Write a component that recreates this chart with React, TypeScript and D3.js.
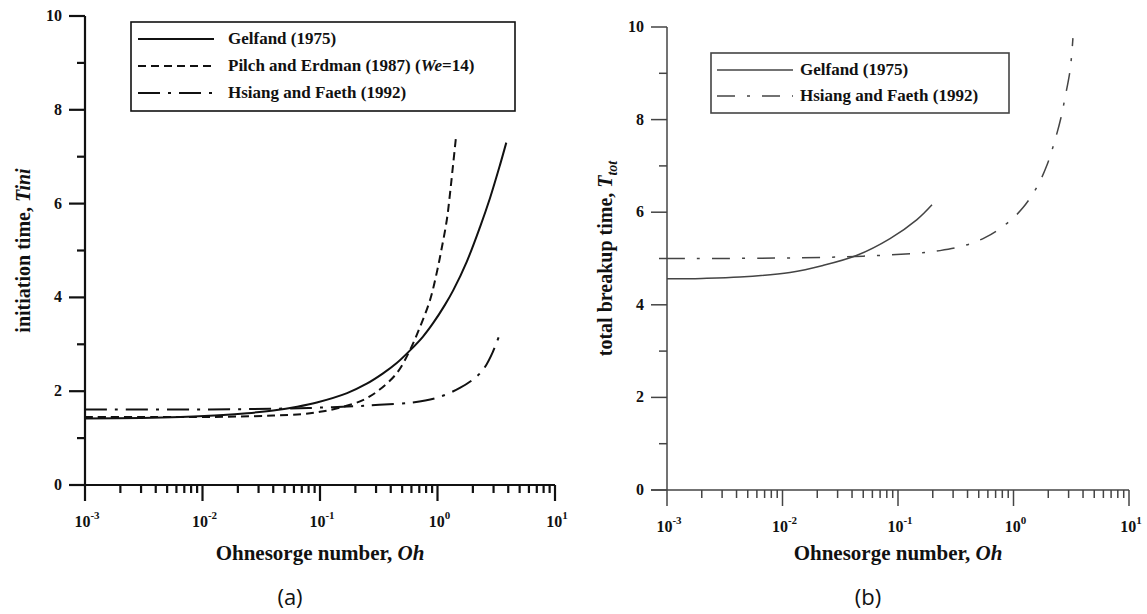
import React from 'react';
import * as d3 from 'd3';

// ---------- Data: panel (a) initiation time ----------
const ohGelfandA = [0.001, 0.003, 0.0065, 0.015, 0.024, 0.04, 0.064, 0.094, 0.17, 0.25, 0.344, 0.45, 0.584, 0.75, 0.917, 1.15, 1.36, 1.78, 2.3, 2.8, 3.4, 3.85];
const tGelfandA = [1.42, 1.43, 1.45, 1.49, 1.53, 1.59, 1.67, 1.76, 1.96, 2.16, 2.38, 2.6, 2.87, 3.16, 3.45, 3.83, 4.15, 4.77, 5.5, 6.12, 6.82, 7.3];

const ohPilchA = [0.001, 0.005, 0.01, 0.02, 0.04, 0.07, 0.1, 0.148, 0.232, 0.32, 0.452, 0.584, 0.71, 0.863, 0.99, 1.09, 1.2, 1.28, 1.36, 1.44];
const tPilchA = [1.45, 1.45, 1.45, 1.46, 1.48, 1.51, 1.56, 1.65, 1.81, 2.03, 2.39, 2.88, 3.37, 3.94, 4.55, 5.07, 5.65, 6.23, 6.85, 7.44];

const ohHsiangA = [0.001, 0.01, 0.05, 0.1, 0.2, 0.32, 0.615, 0.99, 1.55, 2.17, 2.54, 2.96, 3.39];
const tHsiangA = [1.61, 1.61, 1.63, 1.65, 1.68, 1.71, 1.76, 1.86, 2.07, 2.32, 2.52, 2.84, 3.22];

// ---------- Data: panel (b) total breakup time ----------
const ohGelfandB = [0.001, 0.002, 0.00428, 0.0116, 0.0224, 0.0442, 0.0853, 0.146, 0.197];
const tGelfandB = [4.56, 4.57, 4.6, 4.7, 4.85, 5.07, 5.43, 5.84, 6.16];

const ohHsiangB = [0.001, 0.01, 0.05, 0.135, 0.231, 0.366, 0.566, 0.879, 1.21, 1.6, 1.95, 2.24, 2.57, 2.79, 3.09, 3.27];
const tHsiangB = [5.0, 5.01, 5.05, 5.11, 5.17, 5.27, 5.45, 5.76, 6.1, 6.55, 7.02, 7.48, 8.03, 8.47, 9.07, 9.76];

// ---------- Axis ticks ----------
const xMajorExps = [-3, -2, -1, 0, 1];
const xMinorMult = [2, 3, 4, 5, 6, 7, 8, 9];
const yMajor = [0, 2, 4, 6, 8, 10];
const yMinor = [1, 3, 5, 7, 9];

const legendA = ['Gelfand (1975)', 'Pilch and Erdman (1987)', 'Hsiang and Faeth (1992)'];
const legendB = ['Gelfand (1975)', 'Hsiang and Faeth (1992)'];

const SERIF = '"Liberation Serif", "Times New Roman", serif';

type Series = { x: number[]; y: number[]; dash: string };

function Panel(props: {
  xr: [number, number];
  yr: [number, number];
  stroke: string;
  axisW: number;
  lineW: number;
  series: Series[];
  yTitle: React.ReactNode;
  yTitleX: number;
  caption: string;
  legendBox: [number, number, number, number];
  legendRows: { y: number; label: React.ReactNode; dash: string }[];
  legendLine: [number, number];
  legendTextX: number;
}) {
  const { xr, yr, stroke, axisW, lineW, series } = props;
  const x = d3.scaleLog().domain([1e-3, 10]).range(xr);
  const y = d3.scaleLinear().domain([0, 10]).range(yr);
  const line = d3
    .line<[number, number]>()
    .x((d) => x(d[0]))
    .y((d) => y(d[1]))
    .curve(d3.curveCatmullRom.alpha(0.5));

  const x0 = xr[0];
  const y0 = y(0);
  const minorX: number[] = [];
  for (const e of [-3, -2, -1, 0]) for (const m of xMinorMult) minorX.push(m * Math.pow(10, e));

  const [bx0, by0, bx1, by1] = props.legendBox;
  const cx = (xr[0] + xr[1]) / 2;
  const cy = (yr[0] + yr[1]) / 2;

  return (
    <g fontFamily={SERIF} fill="#111">
      {series.map((s, i) => (
        <path
          key={i}
          d={line(s.x.map((v, j) => [v, s.y[j]] as [number, number])) || ''}
          fill="none"
          stroke={stroke}
          strokeWidth={lineW}
          strokeDasharray={s.dash}
        />
      ))}
      <line x1={x0} x2={x0} y1={y(0)} y2={y(10)} stroke={stroke} strokeWidth={axisW} />
      <line x1={x0 - 16} x2={xr[1]} y1={y0} y2={y0} stroke={stroke} strokeWidth={axisW} />
      {yMajor.map((v) => (
        <g key={'ym' + v}>
          <line x1={x0 - 16} x2={x0} y1={y(v)} y2={y(v)} stroke={stroke} strokeWidth={axisW} />
          <text x={x0 - 23} y={y(v) + 5} textAnchor="end" fontSize={16} fontWeight="bold">
            {v}
          </text>
        </g>
      ))}
      {yMinor.map((v) => (
        <line key={'yn' + v} x1={x0 - 8} x2={x0} y1={y(v)} y2={y(v)} stroke={stroke} strokeWidth={axisW} />
      ))}
      {xMajorExps.map((e) => {
        const px = x(Math.pow(10, e));
        return (
          <g key={'xm' + e}>
            <line x1={px} x2={px} y1={y0} y2={y0 + 16} stroke={stroke} strokeWidth={axisW} />
            <text x={px + 2} y={y0 + 42} textAnchor="middle" fontSize={16} fontWeight="bold">
              10
              <tspan dy={-8} fontSize={11}>
                {e < 0 ? '-' + Math.abs(e) : String(e)}
              </tspan>
            </text>
          </g>
        );
      })}
      {minorX.map((v, i) => (
        <line key={'xn' + i} x1={x(v)} x2={x(v)} y1={y0} y2={y0 + 8} stroke={stroke} strokeWidth={axisW} />
      ))}
      <text x={cx} y={560} textAnchor="middle" fontSize={21} fontWeight="bold">
        Ohnesorge number, <tspan fontStyle="italic">Oh</tspan>
      </text>
      <text
        transform={`translate(${props.yTitleX},${cy}) rotate(-90)`}
        textAnchor="middle"
        fontSize={20}
        fontWeight="bold"
      >
        {props.yTitle}
      </text>
      <text x={cx - 30} y={605} textAnchor="middle" fontSize={22} fontFamily='"Open Sans", "Noto Sans", sans-serif' fill="#111">
        {props.caption}
      </text>
      <rect x={bx0} y={by0} width={bx1 - bx0} height={by1 - by0} fill="white" stroke={stroke} strokeWidth={1.6} />
      {props.legendRows.map((r, i) => (
        <g key={'lg' + i}>
          <line
            x1={props.legendLine[0]}
            x2={props.legendLine[1]}
            y1={r.y}
            y2={r.y}
            stroke={stroke}
            strokeWidth={lineW}
            strokeDasharray={r.dash}
          />
          <text x={props.legendTextX} y={r.y + 5} fontSize={17} fontWeight="bold">
            {r.label}
          </text>
        </g>
      ))}
    </g>
  );
}

export default function App() {
  const dashA = '8,5';
  const dashDotA = '22,8,3,8';
  const dashDotB = '18,12,3,12';
  return (
    <svg width={1147} height={614} style={{ position: 'absolute', left: 0, top: 0, background: 'white' }}>
      <Panel
        xr={[85, 555]}
        yr={[485, 16]}
        stroke="#111"
        axisW={2.2}
        lineW={2}
        series={[
          { x: ohGelfandA, y: tGelfandA, dash: '' },
          { x: ohPilchA, y: tPilchA, dash: dashA },
          { x: ohHsiangA, y: tHsiangA, dash: dashDotA },
        ]}
        yTitle={
          <>
            initiation time, <tspan fontStyle="italic">Tini</tspan>
          </>
        }
        yTitleX={30}
        caption="(a)"
        legendBox={[131, 22, 515, 111]}
        legendLine={[138, 214]}
        legendTextX={228}
        legendRows={[
          { y: 39, label: legendA[0], dash: '' },
          {
            y: 66,
            label: (
              <>
                {legendA[1]} (<tspan fontStyle="italic">We</tspan>=14)
              </>
            ),
            dash: dashA,
          },
          { y: 93, label: legendA[2], dash: dashDotA },
        ]}
      />
      <Panel
        xr={[667, 1129]}
        yr={[490, 27]}
        stroke="#444"
        axisW={1.5}
        lineW={1.5}
        series={[
          { x: ohGelfandB, y: tGelfandB, dash: '' },
          { x: ohHsiangB, y: tHsiangB, dash: dashDotB },
        ]}
        yTitle={
          <>
            total breakup time, <tspan fontStyle="italic">T</tspan>
            <tspan fontStyle="italic" fontSize={14} dy={5}>
              tot
            </tspan>
          </>
        }
        yTitleX={612}
        caption="(b)"
        legendBox={[711, 53, 1009, 113]}
        legendLine={[717, 793]}
        legendTextX={800}
        legendRows={[
          { y: 70, label: legendB[0], dash: '' },
          { y: 96, label: legendB[1], dash: dashDotB },
        ]}
      />
    </svg>
  );
}
